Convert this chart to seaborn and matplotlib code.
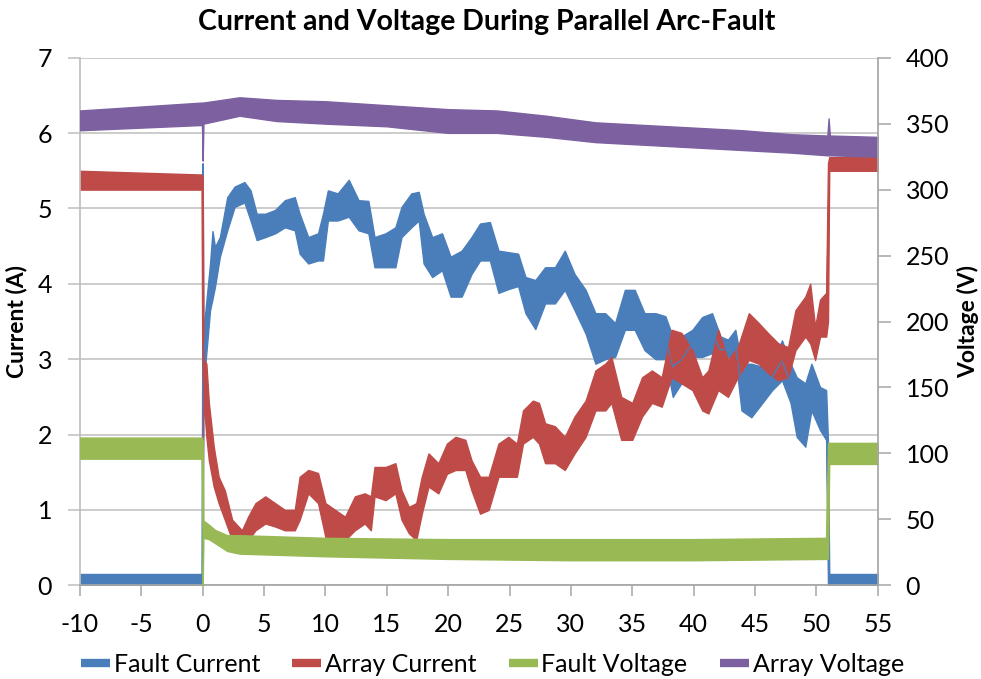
import matplotlib
matplotlib.use("Agg")
import matplotlib.pyplot as plt
import pandas as pd
import seaborn as sns
from matplotlib.lines import Line2D

# ---- measured data: time (s) with lower / upper edge of the noisy trace ----
fault_current_t = [-10, -0.05, 0.0, 0.06, 0.2, 0.6, 0.8, 1.0, 1.4, 2.0, 2.6, 3.4, 3.9, 4.4,
                   5.1, 5.9, 6.7, 7.5, 7.9, 8.6, 9.4, 9.8, 10.2, 11.0, 11.9, 12.7, 13.5,
                   14.0, 14.9, 15.7, 16.2, 17.0, 17.6, 18.0, 18.7, 19.5, 20.2, 21.1, 21.9,
                   22.6, 23.4, 24.1, 24.9, 25.7, 26.3, 27.1, 27.9, 28.7, 29.5, 30.3, 31.2,
                   32.0, 32.8, 33.6, 34.4, 35.2, 36.0, 36.9, 37.7, 38.3, 39.0, 39.9, 40.7,
                   41.5, 42.2, 42.8, 43.4, 43.9, 44.7, 45.6, 46.4, 47.2, 47.9, 48.4, 49.1,
                   49.6, 50.3, 50.8, 50.95, 51.05, 55]
fault_current_lo = [0.0, 0.0, 0.1, 2.9, 2.9, 3.65, 3.8, 3.96, 4.36, 4.71, 5.02, 5.08, 4.84, 4.58,
                    4.62, 4.67, 4.75, 4.71, 4.40, 4.27, 4.31, 4.31, 4.84, 4.84, 4.89, 4.71, 4.67,
                    4.22, 4.22, 4.22, 4.62, 4.75, 4.84, 4.27, 4.09, 4.18, 3.83, 3.83, 4.13,
                    4.31, 4.31, 3.88, 3.93, 3.97, 3.61, 3.40, 3.74, 3.74, 3.92, 3.65, 3.34,
                    2.94, 3.00, 3.03, 3.39, 3.39, 3.12, 3.00, 3.00, 2.50, 2.68, 3.03, 3.03,
                    3.08, 2.94, 3.03, 3.03, 2.32, 2.23, 2.42, 2.59, 2.72, 2.42, 1.97, 1.84,
                    2.32, 2.06, 1.93, 0.0, 0.0, 0.0]
fault_current_hi = [0.15, 0.15, 5.6, 3.3, 3.6, 4.27, 4.7, 4.49, 4.62, 5.15, 5.29, 5.35, 5.24, 4.93,
                    4.93, 4.98, 5.11, 5.15, 4.93, 4.62, 4.67, 4.93, 5.24, 5.20, 5.38, 5.11, 5.10,
                    4.62, 4.67, 4.75, 5.02, 5.20, 5.22, 4.93, 4.62, 4.67, 4.36, 4.44, 4.62,
                    4.80, 4.82, 4.44, 4.42, 4.40, 4.09, 4.05, 4.22, 4.22, 4.44, 4.13, 3.92,
                    3.61, 3.61, 3.48, 3.92, 3.92, 3.61, 3.61, 3.57, 3.30, 3.30, 3.39, 3.56,
                    3.61, 3.30, 3.26, 3.39, 2.94, 2.94, 2.90, 2.94, 3.25, 2.94, 2.76, 2.68,
                    2.94, 2.63, 2.59, 1.90, 0.15, 0.15]

array_current_t = [-10, -0.05, 0.0, 0.06, 0.3, 0.5, 0.9, 1.3, 1.8, 2.4, 3.2, 3.7, 4.3, 5.1,
                   5.9, 6.7, 7.5, 7.9, 8.6, 9.4, 10.0, 10.8, 11.6, 12.4, 13.2, 13.7, 14.0,
                   14.9, 15.7, 16.2, 16.8, 17.4, 17.85, 18.4, 19.2, 19.9, 20.6, 21.4, 21.9,
                   22.6, 23.3, 24.1, 24.9, 25.6, 26.1, 26.9, 27.4, 27.9, 28.7, 29.5, 30.3,
                   31.2, 32.0, 32.8, 33.3, 34.1, 35.0, 35.8, 36.6, 37.4, 38.2, 39.0, 39.9,
                   40.7, 41.2, 42.0, 42.8, 43.6, 44.5, 45.3, 46.1, 46.9, 47.7, 48.3, 49.1,
                   49.5, 49.9, 50.3, 50.8, 50.95, 51.05, 55]
array_current_lo = [5.25, 5.25, 1.2, 2.5, 1.97, 1.66, 1.31, 1.09, 0.87, 0.60, 0.56, 0.60, 0.73, 0.82,
                    0.78, 0.73, 0.73, 0.87, 1.22, 1.09, 0.64, 0.64, 0.60, 0.73, 0.82, 0.73, 1.18,
                    1.13, 1.22, 0.87, 0.69, 0.60, 0.95, 1.31, 1.22, 1.48, 1.53, 1.53, 1.26,
                    0.95, 1.00, 1.44, 1.44, 1.44, 1.88, 1.97, 1.88, 1.62, 1.62, 1.53, 1.75,
                    1.97, 2.32, 2.32, 2.42, 1.93, 1.93, 2.24, 2.42, 2.37, 2.76, 2.68, 2.59,
                    2.32, 2.28, 2.59, 2.50, 2.76, 2.99, 2.94, 2.81, 2.72, 2.76, 3.12, 3.30,
                    3.21, 2.99, 3.30, 3.30, 3.50, 5.50, 5.50]
array_current_hi = [5.50, 5.45, 5.4, 3.0, 2.94, 2.42, 1.84, 1.44, 1.26, 0.87, 0.73, 0.91, 1.09, 1.18,
                    1.09, 1.00, 1.00, 1.44, 1.53, 1.49, 1.09, 1.00, 0.91, 1.18, 1.22, 1.18, 1.57,
                    1.57, 1.62, 1.26, 1.04, 1.09, 1.44, 1.75, 1.62, 1.88, 1.97, 1.93, 1.66,
                    1.44, 1.44, 1.88, 1.97, 1.88, 2.32, 2.45, 2.42, 2.15, 2.11, 1.97, 2.24,
                    2.45, 2.85, 2.94, 3.03, 2.50, 2.42, 2.76, 2.85, 2.76, 3.39, 3.35, 3.12,
                    2.76, 2.85, 3.39, 2.99, 3.16, 3.61, 3.48, 3.34, 3.21, 3.16, 3.65, 3.83,
                    4.00, 3.43, 3.79, 3.88, 5.60, 5.68, 5.68]

fault_voltage_t = [-10, -0.05, 0.0, 0.06, 0.5, 1.0, 2.0, 3.0, 10, 20, 30, 40, 50.8, 50.95, 51.05, 55]
fault_voltage_lo = [96, 96, 0, 36, 35, 32, 26, 24, 22, 20, 19, 19, 20, 20, 92, 92]
fault_voltage_hi = [112, 112, 110, 49, 46, 42, 38, 38, 36, 35, 35, 35, 36, 108, 108, 108]

array_voltage_t = [-10, -5, -0.05, 0.0, 0.06, 3, 6, 10, 15, 20, 24, 28, 32, 36, 40, 44, 48,
                   50.9, 51.0, 51.1, 55]
array_voltage_lo = [345, 347, 349, 322, 350, 356, 352, 350, 348, 343, 343, 340, 336, 334, 332,
                    330, 328, 326, 326, 326, 325]
array_voltage_hi = [360, 363, 366, 366, 366, 370, 368, 367, 364, 361, 360, 356, 351, 349, 347,
                    345, 342, 341, 354, 341, 340]

x_ticks = list(range(-10, 56, 5))
current_ticks = list(range(0, 8))
voltage_ticks = list(range(0, 401, 50))

series_names = ["Fault Current", "Array Current", "Fault Voltage", "Array Voltage"]
series_colors = ["#4a7ebb", "#be4b48", "#98b954", "#7d60a0"]

GRID = "#bfbfbf"
AXIS = "#a6a6a6"

sns.set_theme(style="white")
plt.rcParams["font.family"] = ["Lato", "DejaVu Sans"]
plt.rcParams["axes.unicode_minus"] = False
for key in ["text.color", "axes.labelcolor", "xtick.color", "ytick.color"]:
    plt.rcParams[key] = "black"


def band_frame(t, lo, hi):
    """Long-form table: two rows per time stamp (lower and upper edge)."""
    return pd.DataFrame({"t": list(t) + list(t), "v": list(lo) + list(hi)})


fig = plt.figure(figsize=(9.81, 6.79), dpi=100)
ax = fig.add_axes([0.0815, 0.138, 0.8132, 0.777])
ax2 = ax.twinx()

traces = [
    (ax, fault_current_t, fault_current_lo, fault_current_hi),
    (ax, array_current_t, array_current_lo, array_current_hi),
    (ax2, fault_voltage_t, fault_voltage_lo, fault_voltage_hi),
    (ax2, array_voltage_t, array_voltage_lo, array_voltage_hi),
]
for (target, t, lo, hi), color in zip(traces, series_colors):
    sns.lineplot(data=band_frame(t, lo, hi), x="t", y="v", estimator="mean",
                 errorbar=("pi", 100), color=color, linewidth=1.0,
                 err_kws={"alpha": 1, "linewidth": 1.0, "edgecolor": color},
                 ax=target, legend=False)

# primary axis (current)
ax.set_xlim(-10, 55)
ax.set_ylim(0, 7)
ax.set_xticks(x_ticks)
ax.set_yticks(current_ticks)
ax.set_xlabel("")
ax.set_ylabel("Current (A)", fontsize=16.5, fontweight="bold", labelpad=7)
ax.yaxis.grid(True, color=GRID, linewidth=1.1)
ax.xaxis.grid(False)
ax.set_axisbelow(True)
for side in ["top", "right"]:
    ax.spines[side].set_visible(False)
ax.spines["left"].set_color(GRID)
ax.spines["bottom"].set_color(AXIS)
ax.tick_params(axis="y", direction="out", length=9, width=1.1, color=GRID,
               labelcolor="black", labelsize=18, pad=11, left=True)
ax.tick_params(axis="x", direction="out", length=8, width=1.1, color=AXIS,
               labelcolor="black", labelsize=18, pad=12, bottom=True)

# secondary axis (voltage)
ax2.set_ylim(0, 400)
ax2.set_yticks(voltage_ticks)
ax2.set_xlabel("")
ax2.set_ylabel("Voltage (V)", fontsize=16.5, fontweight="bold", labelpad=6, rotation=90)
ax2.grid(False)
for side in ["top", "left", "bottom"]:
    ax2.spines[side].set_visible(False)
ax2.spines["right"].set_color(AXIS)
ax2.tick_params(axis="y", direction="out", length=9, width=1.1, color=AXIS,
                labelcolor="black", labelsize=18, pad=11, right=True)
ax2.patch.set_visible(False)

fig.suptitle("Current and Voltage During Parallel Arc-Fault", x=0.496, y=0.967,
             va="center", fontsize=20.5, fontweight="bold", color="black")

handles = [Line2D([0], [0], color=c, linewidth=6, solid_capstyle="butt") for c in series_colors]
fig.legend(handles, series_names, loc="center", bbox_to_anchor=(0.502, 0.021), ncol=4,
           frameon=False, fontsize=18, handlelength=1.15, handletextpad=0.15,
           columnspacing=1.3, labelcolor="black")

fig.savefig("out.png", dpi=100)
